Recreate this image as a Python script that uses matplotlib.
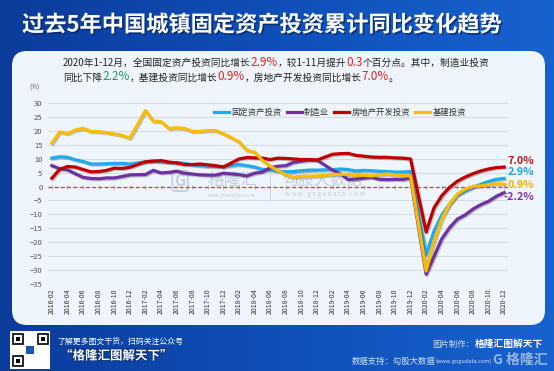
"""Cumulative YoY change of China's urban fixed asset investment, 2016-2020"""

import numpy as np
from matplotlib import pyplot as plt
from matplotlib import patheffects as pe
from matplotlib.patches import FancyBboxPatch, Rectangle
from matplotlib.colors import LinearSegmentedColormap

plt.rcParams["font.family"] = ["Noto Sans CJK SC", "DejaVu Sans"]

# data months (no January release, Jan-Feb is reported together)
months = [f"{y}-{m:02d}" for y in range(2016, 2021) for m in range(2, 13)]
tick_months = [f"{y}-{m:02d}" for y in range(2016, 2021) for m in range(2, 13, 2)]

fai = [10.2, 10.7, 10.5, 9.6, 9.0, 8.1, 8.1, 8.2, 8.3, 8.3, 8.1,
       8.9, 9.2, 8.9, 8.6, 8.6, 8.3, 7.8, 7.5, 7.3, 7.2, 7.2,
       7.9, 7.5, 7.0, 6.1, 6.0, 5.5, 5.3, 5.4, 5.7, 5.9, 5.9,
       6.1, 6.3, 6.1, 5.6, 5.8, 5.7, 5.5, 5.4, 5.2, 5.2, 5.4,
       -24.5, -16.1, -10.3, -6.3, -3.1, -1.6, -0.3, 0.8, 1.8, 2.6, 2.9]
manufacturing = [7.5, 6.4, 6.0, 4.6, 3.3, 2.9, 2.8, 3.1, 3.1, 3.6, 4.2,
                 4.3, 5.8, 4.9, 5.1, 5.5, 4.8, 4.5, 4.2, 4.1, 4.1, 4.8,
                 4.3, 3.8, 4.8, 5.2, 6.8, 7.3, 7.5, 8.7, 9.1, 9.5, 9.5,
                 5.9, 4.6, 2.5, 2.7, 3.0, 3.3, 2.6, 2.5, 2.6, 2.5, 3.1,
                 -31.5, -25.2, -18.8, -14.8, -11.7, -10.2, -8.1, -6.5, -5.3, -3.5, -2.2]
real_estate = [3.0, 6.2, 7.2, 7.0, 6.1, 5.3, 5.4, 5.8, 6.6, 6.5, 6.9,
               8.9, 9.1, 9.3, 8.8, 8.5, 7.9, 7.9, 8.1, 7.8, 7.5, 7.0,
               9.9, 10.4, 10.3, 10.2, 9.7, 10.2, 10.1, 9.9, 9.7, 9.7, 9.5,
               11.6, 11.8, 11.9, 11.2, 10.9, 10.6, 10.5, 10.5, 10.3, 10.2, 9.9,
               -16.3, -7.7, -3.3, -0.3, 1.9, 3.4, 4.6, 5.6, 6.3, 6.8, 7.0]
infrastructure = [15.6, 19.6, 19.0, 20.3, 20.9, 19.8, 19.7, 19.4, 18.9, 18.4, 17.4,
                  27.3, 23.5, 23.3, 20.9, 21.1, 20.9, 19.8, 19.8, 20.1, 20.1, 19.0,
                  16.1, 13.0, 12.4, 9.4, 7.3, 5.7, 4.2, 3.3, 3.7, 3.7, 3.8,
                  4.3, 4.4, 4.4, 4.0, 4.1, 3.8, 4.2, 4.5, 4.2, 4.0, 3.8,
                  -30.3, -19.7, -11.8, -6.3, -2.7, -1.0, 0.1, 0.2, 0.7, 1.0, 0.9]

series = [fai, manufacturing, real_estate, infrastructure]
names = ["固定资产投资", "制造业", "房地产开发投资", "基建投资"]
colors = ["#1eaaee", "#7030a0", "#c00000", "#fbbd00"]
label_colors = ["#1aa3e8", "#7a35ad", "#c8141c", "#f2b400"]
label_dy = [6.5, -4.5, 6.0, -1.0]  # px offsets of end labels

W, H = 554, 371


def month_index(s):
    return (int(s[:4]) - 2016) * 12 + int(s[5:]) - 2


x = np.array([month_index(m) for m in months])
ticks = [month_index(m) for m in tick_months]

fig = plt.figure(figsize=(W / 100, H / 100), dpi=100)

# background axes in pixel units
bg = fig.add_axes([0, 0, 1, 1])
bg.set_xlim(0, W)
bg.set_ylim(H, 0)
bg.axis("off")
cmap = LinearSegmentedColormap.from_list("bgblue", ["#0b3c9b", "#0f4fb8", "#1862cf"])
grad = np.linspace(0, 1, 256)[None, :] * np.ones((20, 1))
bg.imshow(grad, cmap=cmap, extent=(0, W, H, 0), aspect="auto", zorder=0)
bg.add_patch(FancyBboxPatch((12, 51), 533, 274, boxstyle="round,pad=0,rounding_size=15",
                            fc="#eef5fc", ec="none", zorder=1))

bg.text(22, 25, "过去5年中国城镇固定资产投资累计同比变化趋势", color="white",
        fontsize=16, fontweight="bold", va="center", ha="left", zorder=3,
        path_effects=[pe.withSimplePatchShadow(offset=(1.2, -1.2),
                                               shadow_rgbFace="#06245e", alpha=0.7)])

dark, red, green = "#222222", "#e8221c", "#1f9a5b"
line1 = [("2020年1-12月，全国固定资产投资同比增长", dark, 7), ("2.9%", red, 8.5),
         ("，较1-11月提升", dark, 7), ("0.3", red, 8.5),
         ("个百分点。其中，制造业投资", dark, 7)]
line2 = [("同比下降", dark, 7), ("2.2%", green, 8.5), ("，基建投资同比增长", dark, 7),
         ("0.9%", red, 8.5), ("，房地产开发投资同比增长", dark, 7), ("7.0%", red, 8.5),
         ("。", dark, 7)]
renderer = fig.canvas.get_renderer()
for parts, y0 in [(line1, 65.5), (line2, 80.5)]:
    xx = 63
    for txt, col, size in parts:
        t = bg.text(xx, y0, txt, color=col, fontsize=size, va="baseline", ha="left", zorder=3)
        xx = t.get_window_extent(renderer).x1

# footer
bg.add_patch(Rectangle((10, 331), 40, 38, fc="white", ec="none", zorder=2))
for qx, qy in [(13, 334), (38, 334), (13, 356)]:
    bg.add_patch(Rectangle((qx, qy), 10, 10, fc="none", ec="black", lw=1.2, zorder=3))
    bg.add_patch(Rectangle((qx + 3, qy + 3), 4, 4, fc="black", ec="none", zorder=3))
bg.add_patch(Rectangle((26, 346), 8, 8, fc="#1a56b8", ec="none", zorder=3))
bg.text(57, 341, "了解更多图文干货，扫码关注公众号", color="white", fontsize=5.7,
        style="italic", va="center", zorder=3)
bg.text(60, 356, "“格隆汇图解天下”", color="white", fontsize=9, fontweight="bold",
        style="italic", va="center", zorder=3,
        path_effects=[pe.withStroke(linewidth=1.5, foreground="#0a2f7a")])
bg.text(432, 344, "图片制作：", color="#d6e4f7", fontsize=6, va="center", zorder=3)
bg.text(475, 344, "格隆汇图解天下", color="white", fontsize=7, fontweight="bold",
        va="center", zorder=3)
bg.text(352, 361, "数据支持：勾股大数据", color="#d6e4f7", fontsize=6, va="center", zorder=3)
bg.text(436, 361, "(www.gogudata.com)", color="#d6e4f7", fontsize=4, va="center", zorder=3)
bg.text(520, 360, "G 格隆汇", color="white", alpha=0.55, fontsize=10, fontweight="bold",
        va="center", ha="center", zorder=4)

# main chart
ax = fig.add_axes([48 / W, 87 / H, 460 / W, 181 / H])
ax.set_facecolor("none")
for s in ax.spines.values():
    s.set_visible(False)

for vals, name, col in zip(series, names, colors):
    ax.plot(x, vals, color=col, lw=2.3, label=name, solid_joinstyle="round", zorder=3,
            path_effects=[pe.SimpleLineShadow(offset=(0.8, -0.8), shadow_color="#555555",
                                              alpha=0.35), pe.Normal()])

for vals, col, dy in zip(series, label_colors, label_dy):
    ax.annotate(f"{vals[-1]:.1f}%", xy=(x[-1], vals[-1]), xytext=(30 * 0.72, dy * 0.72),
                textcoords="offset points", ha="right", va="center", color=col,
                fontsize=7.8, fontweight="bold", annotation_clip=False)

ax.set_xlim(-0.5, 58.5)
ax.set_ylim(-35, 30)
ax.set_yticks(range(-35, 31, 5))
ax.grid(axis="y", color="#d6dce4", lw=0.8, zorder=0)
ax.axhline(0, color="#e8322e", lw=0.9, ls=(0, (3, 2)), zorder=2)
ax.set_xticks(ticks, tick_months, rotation=90)
ax.tick_params(axis="x", length=0, labelsize=5, labelcolor="#333333", pad=3)
ax.tick_params(axis="y", length=0, labelsize=5.5, labelcolor="#555555", pad=4)
ax.text(-0.03, 1.085, "(%)", transform=ax.transAxes, fontsize=4.5, color="#555555",
        ha="center", va="center")

sec = ax.secondary_xaxis(35 / 65)
sec.set_xticks(ticks, [""] * len(ticks))
sec.tick_params(length=2.5, direction="inout", color="#a0a8b4", width=0.6)
sec.spines["bottom"].set_visible(False)
sec.spines["top"].set_visible(False)

# watermark
wm = "#c2cee0"
ax.text(0.287, 0.57, "G", transform=ax.transAxes, fontsize=11, color=wm, fontweight="bold",
        ha="center", va="center", zorder=1,
        bbox=dict(boxstyle="round,pad=0.15", fc="none", ec=wm, lw=1.2))
ax.text(0.40, 0.57, "格隆汇", transform=ax.transAxes, fontsize=12, color=wm,
        ha="center", va="center", zorder=1)
ax.text(0.40, 0.49, "www.gelonghui.com", transform=ax.transAxes, fontsize=3.5, color=wm,
        ha="center", va="center", zorder=1)
ax.plot([0.483, 0.483], [0.46, 0.63], transform=ax.transAxes, color=wm, lw=0.6, zorder=1)
ax.text(0.596, 0.575, "勾股大数据", transform=ax.transAxes, fontsize=11.5, color=wm,
        ha="center", va="center", zorder=1)
ax.text(0.602, 0.50, "w w w . g o g u d a t a . c o m", transform=ax.transAxes,
        fontsize=4.5, color=wm, ha="center", va="center", zorder=1)

leg = ax.legend(loc="center", bbox_to_anchor=(0.635, 0.95), ncol=4, frameon=False,
                fontsize=6, handlelength=1.8, handletextpad=0.3, columnspacing=0.6)
for t in leg.get_texts():
    t.set_color("#333333")
for h in leg.legend_handles:
    h.set_path_effects([])

fig.savefig("out.png", dpi=100)
plt.close()
